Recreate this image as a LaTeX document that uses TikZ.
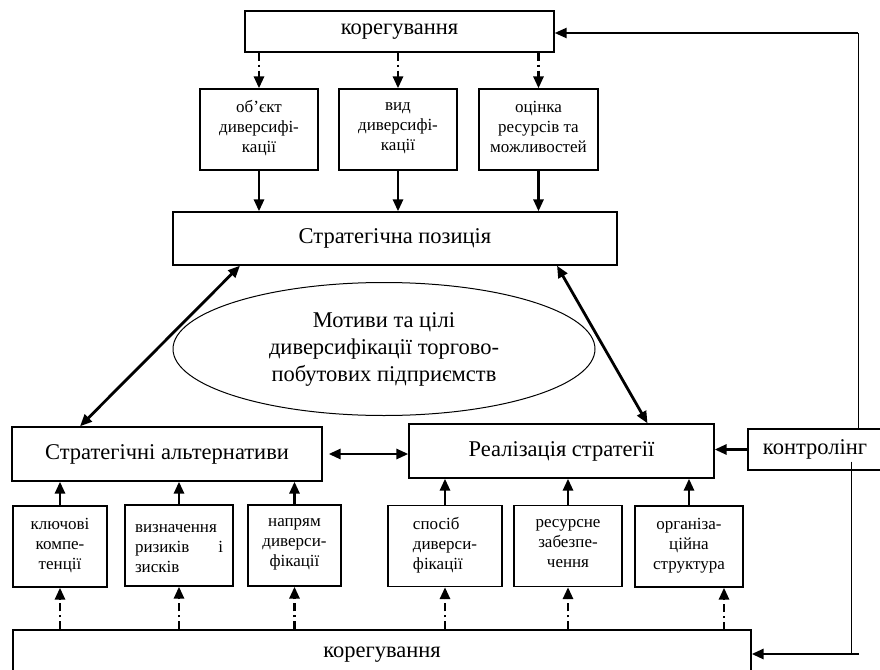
\documentclass[tikz,border=0pt]{standalone}
\usepackage{fontspec}
\setmainfont{Liberation Serif}
\usepackage{tikz}
\usetikzlibrary{arrows,arrows.meta,shapes.geometric}

\begin{document}
\begin{tikzpicture}[x=1pt,y=-1pt,
box/.style={draw,line width=1.3pt,inner sep=0pt,font=\fontsize{22.5}{27}\selectfont},
small/.style={draw,line width=1.3pt,inner sep=0pt,minimum height=81pt,font=\fontsize{17}{20}\selectfont,align=center,
  execute at begin node=\strut,execute at end node=\strut},
arrow/.style={-{Triangle[length=12pt,width=10pt]},line width=2.8pt},
darrow/.style={{Triangle[length=12pt,width=10pt]}-{Triangle[length=12pt,width=10pt]},line width=2.8pt},
dasharrow/.style={-{Triangle[length=12pt,width=10pt]},line width=2.8pt,dash pattern=on 8pt off 4pt on 2pt off 4pt},
fline/.style={line width=1pt} ]

\useasboundingbox (0,0) rectangle (880,669);

% top part
\node[box,minimum width=309pt,minimum height=41pt] (kor1) at (399.5,31.5) {корегування};

\node[small,minimum width=118pt] (t1) at (259,129.5) {об’єкт\\диверсифі-\\кації};
\node[small,minimum width=118pt] (t2) at (398,129.5) {вид\\диверсифі-\\кації};
\node[small,minimum width=119pt] (t3) at (538.5,129.5) {оцінка\\ресурсів та\\можливостей};

\node[box,minimum width=444pt,minimum height=53pt] (pos) at (395,238.5) {Стратегічна позиція};

\node[draw,ellipse,line width=1pt,inner sep=0pt,minimum width=422pt,minimum height=133pt,
  align=center,font=\fontsize{22.5}{27}\selectfont] (mot) at (384,349)
  {Мотиви та цілі\\диверсифікації торгово-\\побутових підприємств};

% middle row
\node[box,minimum width=310pt,minimum height=54pt] (alt) at (167,454) {Стратегічні альтернативи};
\node[box,minimum width=305pt,minimum height=54pt] (real) at (561.5,451) {Реалізація стратегії};
\node[box,minimum width=134pt,minimum height=41pt] (kontr) at (815,449.5) {контролінг};

% bottom part
\node[small,minimum width=94pt] (b1) at (60,546.5) {ключові\\компе-\\тенції};
\node[small,minimum width=108pt,align=left] (b2) at (179,545.5)
  {\parbox{88pt}{\strut визначення\\ризиків\hfill і\\зисків}};
\node[small,minimum width=93pt] (b3) at (294.5,545.5) {напрям\\диверси-\\фікації};
\node[small,minimum width=114pt,align=left] (b4) at (445,546) {спосіб\\диверси-\\фікації};
\node[small,minimum width=108pt] (b5) at (568,546) {ресурсне\\забезпе-\\чення};
\node[small,minimum width=108pt] (b6) at (689,546.5) {організа-\\ційна\\структура};

\node[box,minimum width=738pt,minimum height=50pt] (kor2) at (382,655) {корегування};

% connectors top
\foreach \n in {t1,t2,t3}
  \draw[dasharrow] (kor1.south -| \n.north) -- (\n.north);
\foreach \n in {t1,t2,t3}
  \draw[arrow] (\n.south) -- (pos.north -| \n.south);

\draw[darrow] ([xshift=-155pt]pos.south) -- ([xshift=-87pt]alt.north);
\draw[darrow] ([xshift=162pt]pos.south) -- ([xshift=86pt]real.north);
\draw[darrow] ([xshift=6pt]alt.east) -- (alt.east -| real.west);
\draw[arrow] (kontr.west) -- (kontr.west -| real.east);

% connectors bottom
\foreach \n in {b1,b2,b3}
  \draw[arrow] (\n.north) -- (alt.south -| \n.north);
\foreach \n in {b4,b5,b6}
  \draw[arrow] (\n.north) -- (real.south -| \n.north);
\foreach \n in {b1,b2,b3,b4,b5}
  \draw[dasharrow] (kor2.north -| \n.south) -- (\n.south);
\coordinate (c6) at (724,630);
\draw[dasharrow] (c6) -- (c6 |- b6.south);

% feedback
\coordinate (fb1) at (858,33);
\draw[fline] (kontr.north -| fb1) -- (fb1);
\draw[-{Triangle[length=12pt,width=10pt]},line width=2.2pt] (fb1) -- (kor1.east |- fb1);
\coordinate (fb2) at (851,654);
\draw[fline] ([yshift=9pt]kontr.south -| fb2) -- (fb2);
\draw[arrow] ([xshift=8pt]fb2) -- (kor2.east |- fb2);

\end{tikzpicture}
\end{document}
